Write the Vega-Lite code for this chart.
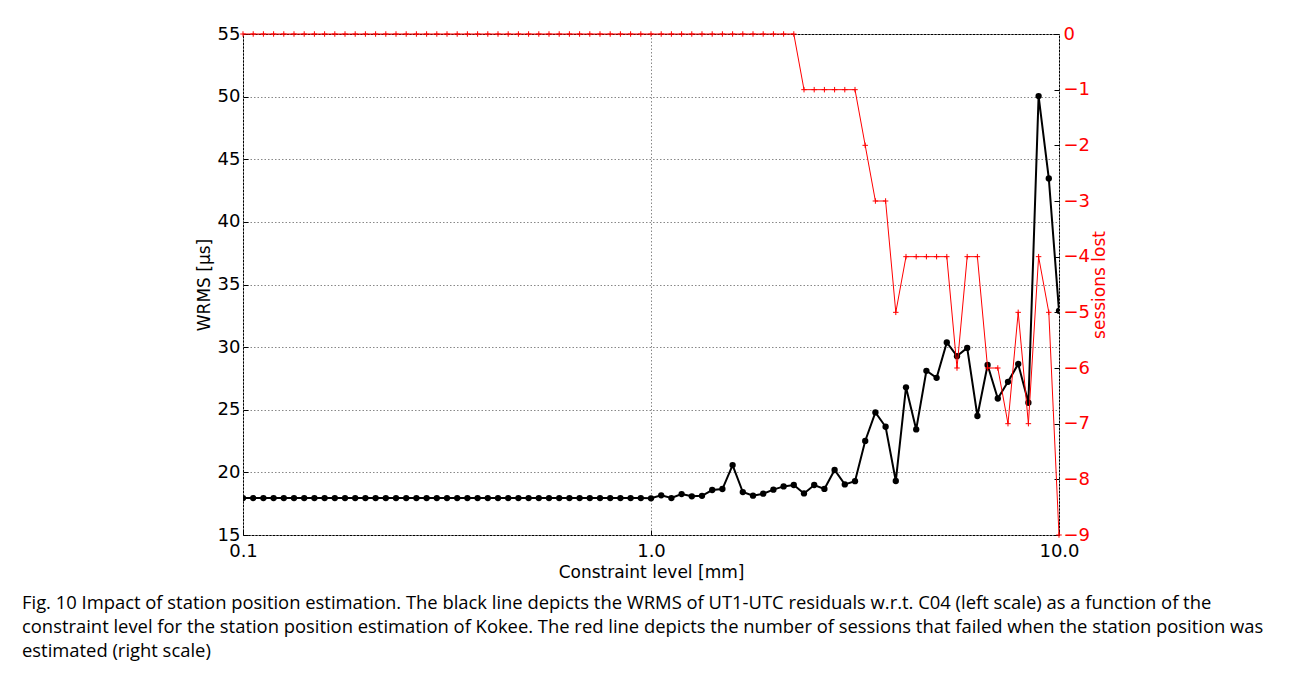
{
  "$schema": "https://vega.github.io/schema/vega-lite/v6.json",
  "autosize": {"type": "none"},
  "padding": {"left": 243, "top": 34, "right": 235, "bottom": 145},
  "width": 816,
  "height": 501,
  "background": "white",
  "config": {
    "view": {"stroke": "black", "strokeWidth": 1},
    "font": "DejaVu Sans",
    "axis": {
      "labelFont": "DejaVu Sans",
      "titleFont": "DejaVu Sans",
      "labelFontSize": 18,
      "titleFontSize": 17,
      "titleFontWeight": "normal",
      "labelColor": "black",
      "titleColor": "black",
      "domain": false,
      "tickColor": "black",
      "tickSize": -5,
      "gridColor": "#888888",
      "gridDash": [1.5, 2],
      "gridWidth": 1
    }
  },
  "title": {
    "text": [
      "Fig. 10 Impact of station position estimation. The black line depicts the WRMS of UT1-UTC residuals w.r.t. C04 (left scale) as a function of the",
      "constraint level for the station position estimation of Kokee. The red line depicts the number of sessions that failed when the station position was",
      "estimated (right scale)"
    ],
    "orient": "bottom",
    "anchor": "start",
    "frame": "group",
    "align": "left",
    "dx": -221,
    "offset": 14,
    "font": "Open Sans",
    "fontSize": 18.4,
    "fontWeight": "normal",
    "color": "black",
    "lineHeight": 24
  },
  "data": {
    "values": [
      {"x": 0.1, "wrms": 17.95, "lost": 0},
      {"x": 0.10593, "wrms": 17.95, "lost": 0},
      {"x": 0.1122, "wrms": 17.95, "lost": 0},
      {"x": 0.11885, "wrms": 17.95, "lost": 0},
      {"x": 0.12589, "wrms": 17.95, "lost": 0},
      {"x": 0.13335, "wrms": 17.95, "lost": 0},
      {"x": 0.14125, "wrms": 17.95, "lost": 0},
      {"x": 0.14962, "wrms": 17.95, "lost": 0},
      {"x": 0.15849, "wrms": 17.95, "lost": 0},
      {"x": 0.16788, "wrms": 17.95, "lost": 0},
      {"x": 0.17783, "wrms": 17.95, "lost": 0},
      {"x": 0.18836, "wrms": 17.95, "lost": 0},
      {"x": 0.19953, "wrms": 17.95, "lost": 0},
      {"x": 0.21135, "wrms": 17.95, "lost": 0},
      {"x": 0.22387, "wrms": 17.95, "lost": 0},
      {"x": 0.23714, "wrms": 17.95, "lost": 0},
      {"x": 0.25119, "wrms": 17.95, "lost": 0},
      {"x": 0.26607, "wrms": 17.95, "lost": 0},
      {"x": 0.28184, "wrms": 17.95, "lost": 0},
      {"x": 0.29854, "wrms": 17.95, "lost": 0},
      {"x": 0.31623, "wrms": 17.95, "lost": 0},
      {"x": 0.33497, "wrms": 17.95, "lost": 0},
      {"x": 0.35481, "wrms": 17.95, "lost": 0},
      {"x": 0.37584, "wrms": 17.95, "lost": 0},
      {"x": 0.39811, "wrms": 17.95, "lost": 0},
      {"x": 0.4217, "wrms": 17.95, "lost": 0},
      {"x": 0.44668, "wrms": 17.95, "lost": 0},
      {"x": 0.47315, "wrms": 17.95, "lost": 0},
      {"x": 0.50119, "wrms": 17.95, "lost": 0},
      {"x": 0.53088, "wrms": 17.95, "lost": 0},
      {"x": 0.56234, "wrms": 17.95, "lost": 0},
      {"x": 0.59566, "wrms": 17.95, "lost": 0},
      {"x": 0.63096, "wrms": 17.95, "lost": 0},
      {"x": 0.66834, "wrms": 17.95, "lost": 0},
      {"x": 0.70795, "wrms": 17.95, "lost": 0},
      {"x": 0.74989, "wrms": 17.95, "lost": 0},
      {"x": 0.79433, "wrms": 17.95, "lost": 0},
      {"x": 0.8414, "wrms": 17.95, "lost": 0},
      {"x": 0.89125, "wrms": 17.95, "lost": 0},
      {"x": 0.94406, "wrms": 17.95, "lost": 0},
      {"x": 1.0, "wrms": 17.93, "lost": 0},
      {"x": 1.0593, "wrms": 18.17, "lost": 0},
      {"x": 1.122, "wrms": 17.95, "lost": 0},
      {"x": 1.1885, "wrms": 18.27, "lost": 0},
      {"x": 1.2589, "wrms": 18.09, "lost": 0},
      {"x": 1.3335, "wrms": 18.13, "lost": 0},
      {"x": 1.4125, "wrms": 18.59, "lost": 0},
      {"x": 1.4962, "wrms": 18.67, "lost": 0},
      {"x": 1.5849, "wrms": 20.58, "lost": 0},
      {"x": 1.6788, "wrms": 18.43, "lost": 0},
      {"x": 1.7783, "wrms": 18.14, "lost": 0},
      {"x": 1.8836, "wrms": 18.3, "lost": 0},
      {"x": 1.9953, "wrms": 18.62, "lost": 0},
      {"x": 2.1135, "wrms": 18.88, "lost": 0},
      {"x": 2.2387, "wrms": 18.99, "lost": 0},
      {"x": 2.3714, "wrms": 18.32, "lost": -1},
      {"x": 2.5119, "wrms": 18.99, "lost": -1},
      {"x": 2.6607, "wrms": 18.68, "lost": -1},
      {"x": 2.8184, "wrms": 20.19, "lost": -1},
      {"x": 2.9854, "wrms": 19.04, "lost": -1},
      {"x": 3.1623, "wrms": 19.3, "lost": -1},
      {"x": 3.3497, "wrms": 22.51, "lost": -2},
      {"x": 3.5481, "wrms": 24.79, "lost": -3},
      {"x": 3.7584, "wrms": 23.64, "lost": -3},
      {"x": 3.9811, "wrms": 19.31, "lost": -5},
      {"x": 4.217, "wrms": 26.79, "lost": -4},
      {"x": 4.4668, "wrms": 23.43, "lost": -4},
      {"x": 4.7315, "wrms": 28.11, "lost": -4},
      {"x": 5.0119, "wrms": 27.55, "lost": -4},
      {"x": 5.3088, "wrms": 30.37, "lost": -4},
      {"x": 5.6234, "wrms": 29.28, "lost": -6},
      {"x": 5.9566, "wrms": 29.94, "lost": -4},
      {"x": 6.3096, "wrms": 24.5, "lost": -4},
      {"x": 6.6834, "wrms": 28.57, "lost": -6},
      {"x": 7.0795, "wrms": 25.9, "lost": -6},
      {"x": 7.4989, "wrms": 27.23, "lost": -7},
      {"x": 7.9433, "wrms": 28.65, "lost": -5},
      {"x": 8.414, "wrms": 25.56, "lost": -7},
      {"x": 8.9125, "wrms": 50.04, "lost": -4},
      {"x": 9.4406, "wrms": 43.47, "lost": -5},
      {"x": 10.0, "wrms": 32.9, "lost": -9}
    ]
  },
  "layer": [
    {
      "mark": {
        "type": "line",
        "color": "black",
        "strokeWidth": 2,
        "clip": true,
        "point": {"filled": true, "size": 40, "color": "black", "opacity": 1}
      },
      "encoding": {
        "x": {
          "field": "x",
          "type": "quantitative",
          "scale": {"type": "log", "domain": [0.1, 10], "nice": false},
          "axis": {
            "values": [0.1, 1, 10],
            "format": ".1f",
            "title": "Constraint level [mm]",
            "grid": true,
            "labelPadding": 12,
            "titlePadding": 4,
            "labelFlush": false
          }
        },
        "y": {
          "field": "wrms",
          "type": "quantitative",
          "scale": {"domain": [15, 55], "nice": false, "zero": false},
          "axis": {
            "values": [15, 20, 25, 30, 35, 40, 45, 50, 55],
            "title": "WRMS [μs]",
            "grid": true,
            "labelPadding": 8,
            "titlePadding": 4
          }
        }
      }
    },
    {
      "mark": {
        "type": "line",
        "color": "#ff0000",
        "strokeWidth": 1,
        "point": {
          "shape": "M-1,0L1,0M0,-1L0,1",
          "filled": false,
          "size": 30,
          "color": "#ff0000",
          "strokeWidth": 1,
          "opacity": 1
        }
      },
      "encoding": {
        "x": {"field": "x", "type": "quantitative", "scale": {"type": "log", "domain": [0.1, 10], "nice": false}},
        "y": {
          "field": "lost",
          "type": "quantitative",
          "scale": {"domain": [-9, 0], "nice": false, "zero": false},
          "axis": {
            "orient": "right",
            "values": [0, -1, -2, -3, -4, -5, -6, -7, -8, -9],
            "format": "d",
            "title": "sessions lost",
            "titleAngle": 270,
            "titleColor": "#ff0000",
            "labelColor": "#ff0000",
            "grid": false,
            "labelPadding": 9,
            "titlePadding": 19
          }
        }
      }
    }
  ],
  "resolve": {"scale": {"y": "independent"}}
}
